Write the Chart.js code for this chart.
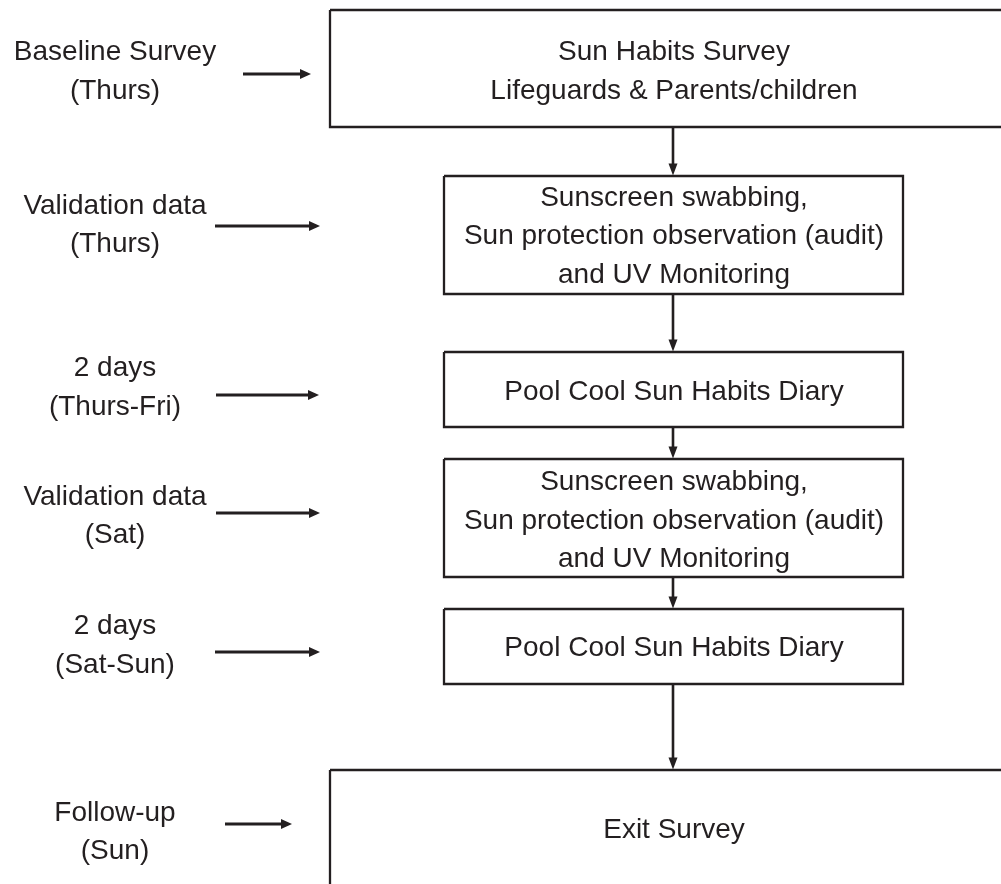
<!DOCTYPE html>
<html lang="en">
  <head>
    <meta charset="UTF-8" />
    <title>Pool Cool study flow</title>
    <script src="https://cdn.jsdelivr.net/npm/chart.js"></script>
    <style>
      html, body { margin: 0; padding: 0; background: #fff; }
      canvas { display: block; }
    </style>
  </head>
  <body>
    <canvas id="flowChart" width="1001" height="884"></canvas>

    <script>
      // Steps of the study, left column (timing) and box text
      const stepLabels = [
        ['Baseline Survey', '(Thurs)'],
        ['Validation data', '(Thurs)'],
        ['2 days', '(Thurs-Fri)'],
        ['Validation data', '(Sat)'],
        ['2 days', '(Sat-Sun)'],
        ['Follow-up', '(Sun)']
      ];
      const boxTexts = [
        ['Sun Habits Survey', 'Lifeguards & Parents/children'],
        ['Sunscreen swabbing,', 'Sun protection observation (audit)', 'and UV Monitoring'],
        ['Pool Cool Sun Habits Diary'],
        ['Sunscreen swabbing,', 'Sun protection observation (audit)', 'and UV Monitoring'],
        ['Pool Cool Sun Habits Diary'],
        ['Exit Survey']
      ];

      // layout, in chart units (x 0..1001, y 0..884 from the top)
      const boxLeft = [330, 444, 444, 444, 444, 330];
      const boxRight = [1012, 903, 903, 903, 903, 1012];
      const boxTop = [10, 176, 352, 459, 609, 770];
      const boxBottom = [127, 294, 427, 577, 684, 900];
      const boxTextY = [72, 236.5, 392, 521, 648, 830];
      const labelY = [72, 225.5, 388, 516.5, 646, 832.5];
      const arrowY = [74, 226, 395, 513, 652, 824];
      const arrowStart = [243, 215, 216, 216, 215, 225];
      const arrowEnd = [311, 320, 319, 320, 320, 292];
      const flowX = 673;
      const labelX = 115;
      const boxX = 674;

      const ink = '#231f20';
      const font = '28px "Liberation Sans", Arial, sans-serif';
      const lineGap = 38.5;

      const datasets = [];

      // boxes
      for (let i = 0; i < boxTexts.length; i++) {
        datasets.push({
          data: [
            { x: boxLeft[i], y: boxTop[i] },
            { x: boxRight[i], y: boxTop[i] },
            { x: boxRight[i], y: boxBottom[i] },
            { x: boxLeft[i], y: boxBottom[i] },
            { x: boxLeft[i], y: boxTop[i] }
          ],
          borderColor: ink,
          borderWidth: 2.3,
          pointRadius: 0,
          tension: 0
        });
      }

      // timing arrows
      for (let i = 0; i < stepLabels.length; i++) {
        datasets.push({
          data: [{ x: arrowStart[i], y: arrowY[i] }, { x: arrowEnd[i] - 8, y: arrowY[i] }],
          borderColor: ink,
          borderWidth: 3,
          pointRadius: 0,
          arrow: { len: 11, half: 5, tipX: arrowEnd[i], tipY: arrowY[i] }
        });
      }

      // arrows between boxes
      for (let i = 0; i < boxTexts.length - 1; i++) {
        datasets.push({
          data: [{ x: flowX, y: boxBottom[i] }, { x: flowX, y: boxTop[i + 1] - 8 }],
          borderColor: ink,
          borderWidth: 2.6,
          pointRadius: 0,
          arrow: { len: 12, half: 4.5, tipX: flowX, tipY: boxTop[i + 1] - 0.5 }
        });
      }

      const arrowHeads = {
        id: 'arrowHeads',
        afterDatasetsDraw(chart) {
          const { ctx, scales } = chart;
          ctx.save();
          ctx.fillStyle = ink;
          chart.data.datasets.forEach((ds) => {
            if (!ds.arrow) return;
            const a = ds.arrow;
            const first = ds.data[0];
            const tx = scales.x.getPixelForValue(a.tipX);
            const ty = scales.y.getPixelForValue(a.tipY);
            const fx = scales.x.getPixelForValue(first.x);
            const fy = scales.y.getPixelForValue(first.y);
            const ang = Math.atan2(ty - fy, tx - fx);
            const bx = tx - Math.cos(ang) * a.len;
            const by = ty - Math.sin(ang) * a.len;
            ctx.beginPath();
            ctx.moveTo(tx, ty);
            ctx.lineTo(bx - Math.sin(ang) * a.half, by + Math.cos(ang) * a.half);
            ctx.lineTo(bx + Math.sin(ang) * a.half, by - Math.cos(ang) * a.half);
            ctx.closePath();
            ctx.fill();
          });
          ctx.restore();
        }
      };

      const textBlocks = {
        id: 'textBlocks',
        afterDatasetsDraw(chart) {
          const { ctx, scales } = chart;
          ctx.save();
          ctx.font = font;
          ctx.fillStyle = ink;
          ctx.textAlign = 'center';
          ctx.textBaseline = 'middle';
          const block = (lines, cx, cy) => {
            const top = cy - (lines.length - 1) * lineGap / 2;
            lines.forEach((t, k) => {
              ctx.fillText(t, scales.x.getPixelForValue(cx), scales.y.getPixelForValue(top + k * lineGap));
            });
          };
          stepLabels.forEach((lines, i) => block(lines, labelX, labelY[i]));
          boxTexts.forEach((lines, i) => block(lines, boxX, boxTextY[i]));
          ctx.restore();
        }
      };

      new Chart(document.getElementById('flowChart'), {
        type: 'line',
        data: { datasets: datasets },
        options: {
          responsive: false,
          animation: false,
          devicePixelRatio: 1,
          layout: { padding: 0 },
          plugins: { legend: { display: false }, tooltip: { enabled: false } },
          scales: {
            x: { type: 'linear', min: 0, max: 1001, display: false },
            y: { type: 'linear', min: 0, max: 884, reverse: true, display: false }
          }
        },
        plugins: [arrowHeads, textBlocks]
      });
    </script>
  </body>
</html>
